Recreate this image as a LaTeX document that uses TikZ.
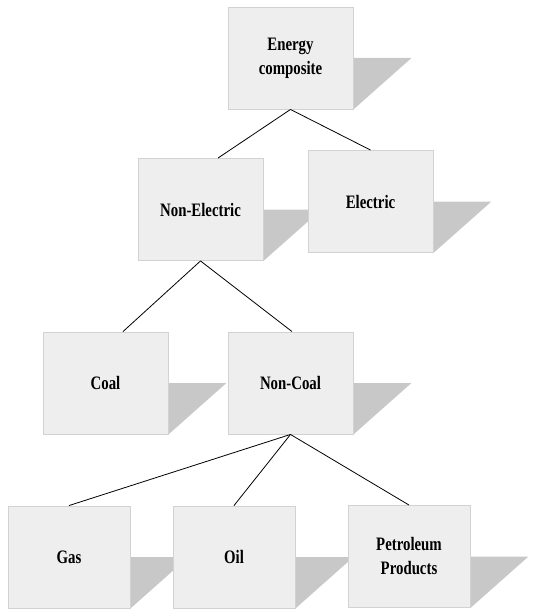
\documentclass[tikz,border=0pt]{standalone}
\usepackage{fontspec}
\newfontfamily\labelfont[FakeStretch=0.78]{Liberation Serif}
\usetikzlibrary{backgrounds}
\definecolor{boxfill}{HTML}{EEEEEE}
\definecolor{boxline}{HTML}{D2D2D2}
\definecolor{shadowgray}{HTML}{C8C8C8}
\tikzset{
  unit/.style={draw=boxline, fill=boxfill, line width=0.9pt,
    minimum width=125pt, minimum height=102pt, inner sep=0pt,
    align=center, font=\labelfont\bfseries\fontsize{19}{24}\selectfont},
  leaf/.style={unit, minimum width=122pt},
  link/.style={draw=black, line width=0.8pt},
  wedge/.style={fill=shadowgray, draw=none},
}
% wedge-shaped drop shadow to the lower right of a box
\newcommand\boxshade[1]{\path[wedge] (#1.east) -- ++(58,0) -- (#1.south east) -- cycle;}
\begin{document}
\begin{tikzpicture}[x=1pt,y=-1pt]
\useasboundingbox (0,0) rectangle (538,610);

\node[unit] (energy) at (290.5,58) {Energy\\composite};
\node[unit] (nonel) at (200.5,209.5) {Non-Electric};
\node[unit] (elec) at (370.5,201.5) {Electric};
\node[unit] (coal) at (105.5,383) {Coal};
\node[unit] (noncoal) at (290.5,383) {Non-Coal};
\node[leaf] (gas) at (69,557) {Gas};
\node[leaf] (oil) at (234,557) {Oil};
\node[leaf] (petro) at (409,556.5) {Petroleum\\Products};

\begin{scope}[on background layer]
  \boxshade{energy}
  \boxshade{nonel}
  \boxshade{elec}
  \boxshade{coal}
  \boxshade{noncoal}
  \boxshade{gas}
  \boxshade{oil}
  \boxshade{petro}
\end{scope}

\draw[link] (energy.south) -- ([xshift=17.5pt]nonel.north);
\draw[link] (energy.south) -- (elec.north);
\draw[link] (nonel.south) -- ([xshift=17.5pt]coal.north);
\draw[link] (nonel.south) -- ([xshift=1.5pt]noncoal.north);
\draw[link] (noncoal.south) -- (gas.north);
\draw[link] (noncoal.south) -- (oil.north);
\draw[link] (noncoal.south) -- (petro.north);
\end{tikzpicture}
\end{document}
